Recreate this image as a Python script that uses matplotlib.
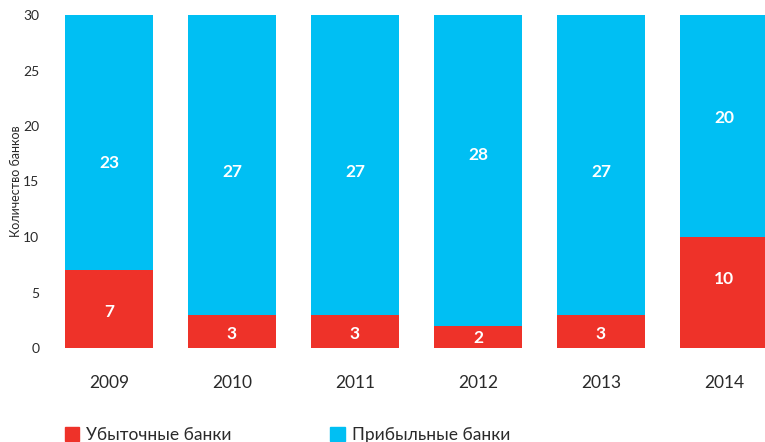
import matplotlib
matplotlib.use("Agg")
import matplotlib.pyplot as plt
from matplotlib.patches import Patch

plt.rcParams['font.family'] = ['Lato', 'DejaVu Sans']

years = ['2009', '2010', '2011', '2012', '2013', '2014']
loss_banks = [7, 3, 3, 2, 3, 10]
profit_banks = [23, 27, 27, 28, 27, 20]
series_names = ['Убыточные банки', 'Прибыльные банки']
y_ticks = [0, 5, 10, 15, 20, 25, 30]

RED = '#EE3229'
CYAN = '#00BFF3'
TEXT = '#2a2a2a'

W, H = 765, 442
fig = plt.figure(figsize=(W / 100, H / 100), dpi=100)

# axes extends past the right edge so the last bar is trimmed by the figure
left_px, right_px = 47.5, 785.5
bottom_px, top_px = 348, 15
ax = fig.add_axes([left_px / W, 1 - bottom_px / H,
                   (right_px - left_px) / W, (bottom_px - top_px) / H])

x = list(range(len(years)))
width = 0.715
ax.bar(x, loss_banks, width=width, color=RED, linewidth=0)
ax.bar(x, profit_banks, width=width, bottom=loss_banks, color=CYAN, linewidth=0)

ax.set_xlim(-0.5, len(years) - 0.5)
ax.set_ylim(0, 30)
ax.set_yticks(y_ticks)
ax.set_xticks(x)
ax.set_xticklabels(years)
ax.tick_params(axis='both', length=0, colors=TEXT)
ax.tick_params(axis='y', labelsize=10, pad=6)
ax.tick_params(axis='x', labelsize=12.5, pad=19.5)
for s in ax.spines.values():
    s.set_visible(False)

# value labels inside segments
loss_label_y = [3.27, 1.26, 1.26, 0.93, 1.26, 6.2]
profit_label_y = [16.7, 15.9, 15.9, 17.4, 15.9, 20.7]
for i in x:
    ax.text(i, loss_label_y[i], str(loss_banks[i]), color='white',
            ha='center', va='center', fontsize=12.5, fontweight='bold')
    ax.text(i, profit_label_y[i], str(profit_banks[i]), color='white',
            ha='center', va='center', fontsize=12.5, fontweight='bold')

fig.text(16 / W, 1 - 181 / H, 'Количество банков', rotation=90,
         ha='center', va='center', fontsize=9, color=TEXT)

handles = [Patch(color=RED), Patch(color=CYAN)]
fig.legend(handles, series_names, loc='lower left',
           bbox_to_anchor=(49 / W, -17 / H), ncol=2, frameon=False,
           fontsize=12.5, handlelength=0.85, handleheight=0.85,
           handletextpad=0.4, columnspacing=5.65, labelcolor=TEXT)

fig.savefig('out.png', dpi=100)
